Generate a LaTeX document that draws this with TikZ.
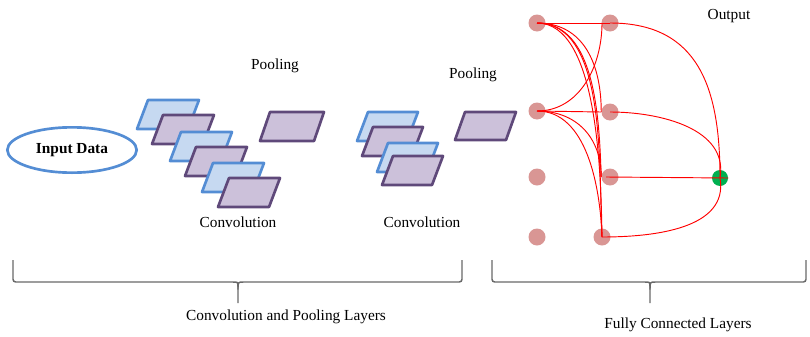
\documentclass[tikz,border=0pt]{standalone}
\usepackage{fontspec}
\setmainfont{Liberation Serif}
\usepackage{xcolor}
\usetikzlibrary{shapes.geometric}

\definecolor{mapblue}{RGB}{84,141,212}
\definecolor{mapbluefill}{RGB}{198,217,241}
\definecolor{mappurple}{RGB}{95,73,122}
\definecolor{mappurplefill}{RGB}{204,193,218}
\definecolor{neuron}{RGB}{217,150,148}
\definecolor{outgreen}{RGB}{0,176,80}
\definecolor{bracegray}{RGB}{105,105,105}

\begin{document}
\begin{tikzpicture}[x=0.75pt,y=-0.75pt]
	\useasboundingbox (0,0) rectangle (810,336);
	\tikzstyle{every node}=[font=\fontsize{11.5}{13}\selectfont]
	\tikzstyle{bluemap}=[draw=mapblue, fill=mapbluefill, line width=2pt, line join=round]
	\tikzstyle{purplemap}=[draw=mappurple, fill=mappurplefill, line width=2pt, line join=round]
	\tikzstyle{link}=[red, line width=0.7pt]
	\tikzstyle{bracket}=[bracegray, line width=1.1pt, rounded corners=2pt]
	
	% input
	\node[ellipse, draw=mapblue, line width=2pt, minimum width=97pt, minimum height=34pt, font=\fontsize{11.5}{13}\selectfont\bfseries] (inp) at (72,150) {Input Data};
	
	% first convolution and pooling
	\foreach \x/\y/\c in {148/100/bluemap, 163/115/purplemap, 181/132/bluemap, 196/147/purplemap, 213/163/bluemap, 229/178/purplemap}
		\draw[\c] (\x,\y) -- ++(51,0) -- ++(-11,29) -- ++(-51,0) -- cycle;
	\draw[purplemap] (270,112) -- ++(54,0) -- ++(-10,29) -- ++(-54,0) -- cycle;
	
	\node (pool1) at (275,66) {Pooling};
	\node (conv1) at (238,222) {Convolution};
	
	% second convolution and pooling
	\foreach \x/\y/\c in {368/112/bluemap, 373/127/purplemap, 388/143/bluemap, 393/156/purplemap}
		\draw[\c] (\x,\y) -- ++(50,0) -- ++(-11,29) -- ++(-50,0) -- cycle;
	\draw[purplemap] (465,112) -- ++(51,0) -- ++(-10,28) -- ++(-51,0) -- cycle;
	
	\node (pool2) at (473,75) {Pooling};
	\node (conv2) at (422,222) {Convolution};
	
	% fully connected part
	\tikzstyle{every node}=[circle, fill=neuron, inner sep=0pt, minimum size=12.75pt]
	\node (i1) at (537,23) {};
	\node (i2) at (537,111) {};
	\node (i3) at (537,177) {};
	\node (i4) at (537,237) {};
	\node (h1) at (610,23) {};
	\node (h2) at (610,112) {};
	\node (h3) at (610,177) {};
	\node (h4) at (602,237) {};
	\node[fill=outgreen, minimum size=12pt] (out) at (720,178) {};
	
	\draw[link] (i1.center) -- (h1.center);
	\draw[link] (i1.center) to[out=0, in=90, looseness=1.1] (h2.west);
	\draw[link] (i1.center) to[out=0, in=92, looseness=0.9] (h3.west);
	\draw[link] (i1.center) to[out=0, in=93, looseness=0.8] (h4.center);
	\draw[link] (i1.center) to[out=0, in=91, looseness=0.7] (h4.center);
	\draw[link] (i2.center) to[out=0, in=-90] ([xshift=-6pt]h1.center);
	\draw[link] (i2.center) -- (h2.west);
	\draw[link] (i2.center) to[out=0, in=90, looseness=1.1] (h3.west);
	\draw[link] (i2.center) to[out=0, in=92, looseness=0.9] (h4.center);
	
	\draw[link] (h1.center) to[out=0, in=90, looseness=1.2] (out.center);
	\draw[link] (h2.center) to[out=0, in=80] (out.center);
	\draw[link] ([xshift=-3pt]h3.center) -- (out.east);
	\draw[link] (h4.center) to[out=0, in=-80] (out.center);
	
	% braces
	\tikzstyle{every node}=[font=\fontsize{11.5}{13}\selectfont]
	\coordinate (lb) at (238,303);
	\coordinate (rb) at (650,303);
	\draw[bracket] (13,260) -- (13,282) -- (230,282) .. controls (238,282) .. ([yshift=10pt]lb) -- (lb);
	\draw[bracket] (462,260) -- (462,282) -- (246,282) .. controls (238,282) .. ([yshift=10pt]lb);
	\draw[bracket] (492,260) -- (492,282) -- (642,282) .. controls (650,282) .. ([yshift=10pt]rb) -- (rb);
	\draw[bracket] (806,260) -- (806,282) -- (658,282) .. controls (650,282) .. ([yshift=10pt]rb);
	
	\node (outlbl) at (729,16) {Output};
	\node (convpool) at (286,317) {Convolution and Pooling Layers};
	\node (fcl) at (678,325) {Fully Connected Layers};
\end{tikzpicture}
\end{document}
